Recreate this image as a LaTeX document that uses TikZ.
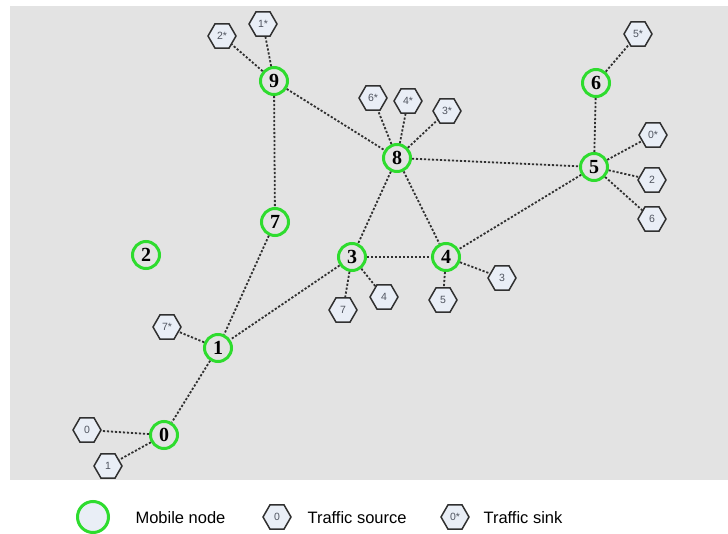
\documentclass[tikz,border=0pt]{standalone}
\usepackage{fontspec}
\setmainfont{Liberation Serif}
\setsansfont{Liberation Sans}
\usepackage{xcolor}
\usepackage{tikz}
\usetikzlibrary{shapes.geometric, positioning}

\definecolor{bggray}{HTML}{E3E3E3}
\definecolor{nodegreen}{HTML}{2EDC2E}
\definecolor{hexfill}{HTML}{E9EEF6}
\definecolor{hexline}{HTML}{303030}
\definecolor{hextext}{HTML}{505560}

\tikzset{
    mnode/.style={circle, draw=nodegreen, line width=3pt, fill=bggray,
        minimum size=27pt, inner sep=0pt, font=\bfseries\fontsize{20}{20}\selectfont},
    hexnode/.style={regular polygon, regular polygon sides=6, draw=hexline,
        line width=1.5pt, fill=hexfill, minimum size=28pt, inner sep=0pt,
        text=hextext, font=\sffamily\fontsize{10.5}{10.5}\selectfont},
    link/.style={draw=hexline, line width=1.8pt, dash pattern=on 2.2pt off 1.8pt},
    legtext/.style={anchor=west, font=\sffamily\fontsize{16.5}{17}\selectfont}
}

\begin{document}
\begin{tikzpicture}[x=1pt, y=-1pt]
    \useasboundingbox (0,0) rectangle (728,534);
    \fill[bggray] (10,6) rectangle (728,480);

    % mobile nodes
    \foreach \n/\x/\y in {0/164/435, 1/218/348, 2/146/255, 3/352/257, 4/446/257,
                          5/594/167, 6/596/83, 7/275/222, 8/397/158, 9/274/81}
        \node[mnode] (m\n) at (\x,\y) {\n};

    % traffic sources
    \foreach \n/\x/\y in {0/87/430, 1/108/466, 2/652/180, 3/502/278,
                          4/384/297, 5/443/300, 6/652/219, 7/343/310}
        \node[hexnode] (src\n) at (\x,\y) {\n};

    % traffic sinks
    \foreach \n/\x/\y in {0/653/135, 1/263/24, 2/222/36, 3/447/111,
                          4/408/101, 5/638/34, 6/373/98, 7/167/327}
        \node[hexnode] (snk\n) at (\x,\y) {\n*};

    % links
    \foreach \a/\b in {m9/snk2, m9/snk1, m9/m8, m9/m7,
                       m8/snk6, m8/snk4, m8/snk3, m8/m5, m8/m3, m8/m4,
                       m6/snk5, m6/m5, m5/snk0, m5/src2, m5/src6, m5/m4,
                       m3/m4, m3/m1, m3/src7, m3/src4, m4/src5, m4/src3,
                       m7/m1, m1/snk7, m1/m0, m0/src0, m0/src1}
        \draw[link] (\a) -- (\b);

    % legend
    \node[mnode, fill=hexfill, minimum size=31pt] (legnode) at (93,517) {};
    \node[legtext] (legnodetxt) at (132,518) {Mobile node};
    \node[hexnode] (legsrc) at (277,517) {0};
    \node[legtext] (legsrctxt) at (304,518) {Traffic source};
    \node[hexnode] (legsnk) at (455,517) {0*};
    \node[legtext] (legsnktxt) at (480,518) {Traffic sink};
\end{tikzpicture}
\end{document}
